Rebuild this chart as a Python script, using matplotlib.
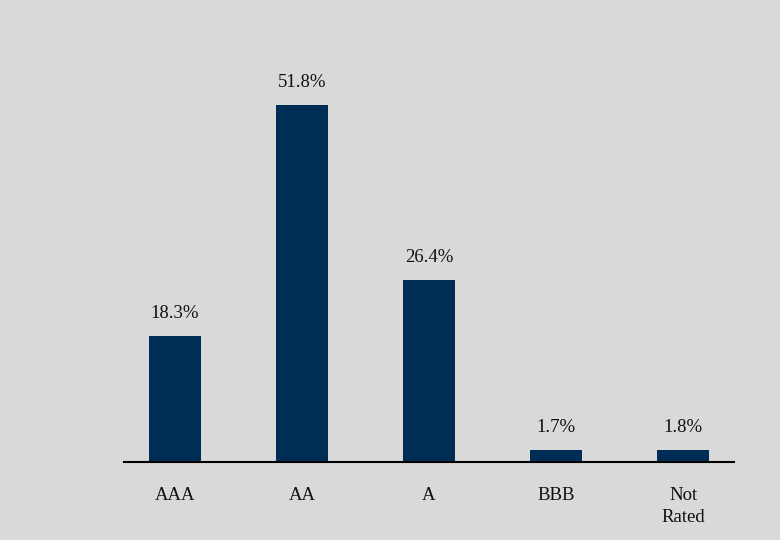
import matplotlib.pyplot as plt

# Credit quality breakdown
ratings = ['AAA', 'AA', 'A', 'BBB', 'Not\nRated']
pct = [18.3, 51.8, 26.4, 1.7, 1.8]

bg = '#d9d9d9'
bar_col = '#002d56'

plt.rcParams['font.family'] = ['Liberation Serif', 'DejaVu Serif']

fig = plt.figure(figsize=(7.8, 5.4), dpi=100, facecolor=bg)
ax = fig.add_axes([0.159, 0.1444, 0.782, 0.7666], facecolor=bg)

x = range(len(ratings))
bars = ax.bar(x, pct, width=0.41, color=bar_col)

for b, v in zip(bars, pct):
    ax.text(b.get_x() + b.get_width() / 2, v + 2.0, f'{v}%',
            ha='center', va='bottom', fontsize=13.5, color='#111111')

ax.set_xlim(-0.4, 4.4)
ax.set_ylim(0, 60)
ax.set_xticks(list(x))
ax.set_xticklabels(ratings, fontsize=13.5, color='#111111', linespacing=1.35)
ax.tick_params(axis='x', length=0, pad=18)
ax.set_yticks([])
for s in ['top', 'right', 'left']:
    ax.spines[s].set_visible(False)
ax.spines['bottom'].set_color('black')
ax.spines['bottom'].set_linewidth(1.5)

fig.savefig('out.png', dpi=100, facecolor=bg)
